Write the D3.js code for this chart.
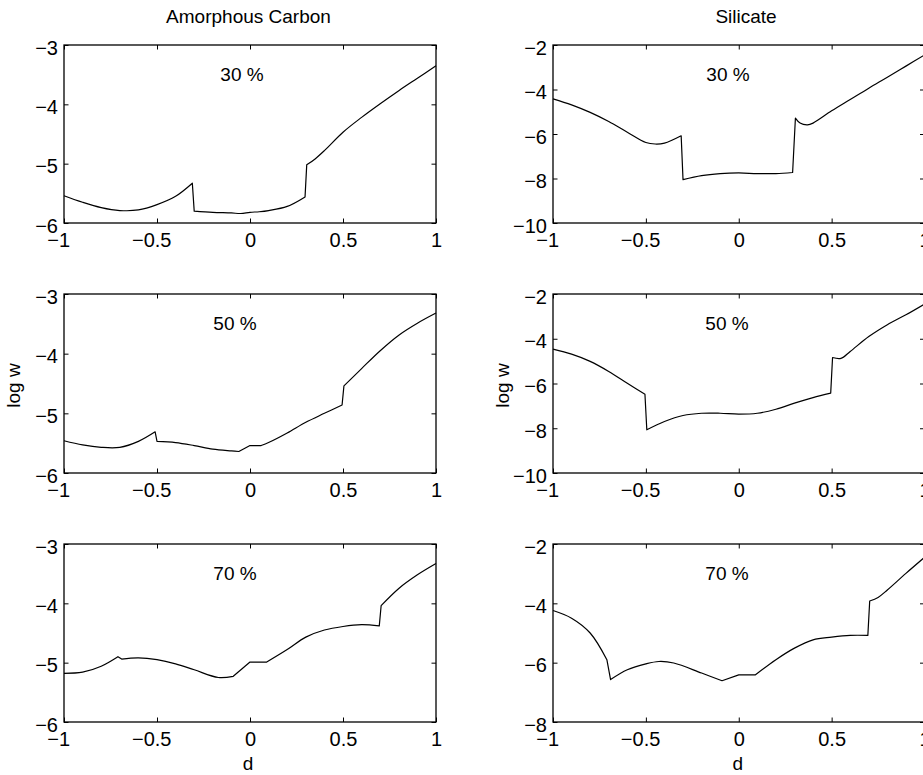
<!DOCTYPE html>
<html><head><meta charset="utf-8">
<script src="https://cdn.jsdelivr.net/npm/d3@7"></script>
<style>html,body{margin:0;padding:0;background:#fff;overflow:hidden}</style>
</head><body><svg id="c" width="923" height="775"></svg>
<script>
// ---------- data ----------
const dTicks = [-1, -0.5, 0, 0.5, 1];
const carbonTicks = [-6, -5, -4, -3];
const silicateTicks = [-10, -8, -6, -4, -2];
const silicateTicks70 = [-8, -6, -4, -2];
const columnTitles = ["Amorphous Carbon", "Silicate"];
const fractionLabels = ["30 %", "50 %", "70 %"];
const xLabel = "d";
const yLabel = "log w";

const carbon30D = [-1, -0.9, -0.8, -0.7, -0.6, -0.5, -0.4, -0.31, -0.30, -0.2, -0.1, -0.05, 0, 0.05, 0.1, 0.2, 0.296, 0.305, 0.35, 0.4, 0.5, 0.6, 0.7, 0.8, 0.9, 1];
const carbon30W = [-5.54, -5.65, -5.74, -5.79, -5.78, -5.69, -5.55, -5.33, -5.80, -5.82, -5.83, -5.84, -5.82, -5.81, -5.79, -5.72, -5.56, -5.02, -4.92, -4.78, -4.47, -4.22, -3.99, -3.77, -3.56, -3.35];
const carbon30Kinks = [-0.31, -0.30, 0.296, 0.305];

const carbon50D = [-1, -0.9, -0.8, -0.7, -0.6, -0.51, -0.50, -0.4, -0.3, -0.2, -0.1, -0.06, 0, 0.06, 0.1, 0.2, 0.3, 0.4, 0.495, 0.505, 0.6, 0.7, 0.8, 0.9, 1];
const carbon50W = [-5.46, -5.53, -5.57, -5.57, -5.47, -5.31, -5.47, -5.49, -5.54, -5.60, -5.63, -5.64, -5.54, -5.54, -5.49, -5.33, -5.15, -5.00, -4.86, -4.54, -4.25, -3.95, -3.69, -3.49, -3.32];
const carbon50Kinks = [-0.51, -0.50, -0.06, 0, 0.06, 0.495, 0.505];

const carbon70D = [-1, -0.9, -0.8, -0.71, -0.69, -0.6, -0.5, -0.4, -0.3, -0.17, -0.09, 0, 0.09, 0.2, 0.3, 0.4, 0.5, 0.6, 0.695, 0.705, 0.8, 0.9, 1];
const carbon70W = [-5.18, -5.16, -5.06, -4.90, -4.94, -4.92, -4.95, -5.02, -5.12, -5.25, -5.23, -4.99, -4.99, -4.78, -4.57, -4.45, -4.39, -4.36, -4.38, -4.04, -3.75, -3.52, -3.33];
const carbon70Kinks = [-0.71, -0.69, -0.09, 0, 0.09, 0.695, 0.705];

const silicate30D = [-1, -0.9, -0.8, -0.7, -0.6, -0.5, -0.45, -0.4, -0.31, -0.30, -0.2, -0.1, 0, 0.1, 0.2, 0.29, 0.305, 0.33, 0.37, 0.4, 0.5, 0.6, 0.7, 0.8, 0.9, 1];
const silicate30W = [-4.42, -4.69, -5.03, -5.44, -5.92, -6.38, -6.45, -6.41, -6.08, -8.05, -7.87, -7.78, -7.75, -7.78, -7.78, -7.73, -5.29, -5.51, -5.59, -5.51, -4.96, -4.45, -3.94, -3.45, -2.95, -2.45];
const silicate30Kinks = [-0.31, -0.30, 0.29, 0.305];

const silicate50D = [-1, -0.9, -0.8, -0.7, -0.6, -0.505, -0.495, -0.4, -0.3, -0.2, -0.1, 0, 0.1, 0.2, 0.3, 0.4, 0.495, 0.505, 0.55, 0.6, 0.7, 0.8, 0.9, 1];
const silicate50W = [-4.46, -4.69, -5.01, -5.46, -5.99, -6.48, -8.07, -7.70, -7.43, -7.33, -7.33, -7.37, -7.33, -7.15, -6.88, -6.63, -6.43, -4.84, -4.88, -4.57, -3.90, -3.37, -2.93, -2.45];
const silicate50Kinks = [-0.505, -0.495, 0.495, 0.505];

const silicate70D = [-1, -0.9, -0.8, -0.71, -0.69, -0.6, -0.5, -0.43, -0.35, -0.2, -0.09, 0, 0.09, 0.2, 0.3, 0.4, 0.5, 0.6, 0.695, 0.705, 0.75, 0.8, 0.9, 1];
const silicate70W = [-4.24, -4.50, -5.00, -5.90, -6.57, -6.24, -6.04, -5.96, -6.01, -6.35, -6.61, -6.41, -6.41, -5.90, -5.51, -5.23, -5.14, -5.08, -5.08, -3.92, -3.80, -3.55, -2.99, -2.45];
const silicate70Kinks = [-0.71, -0.69, -0.09, 0, 0.09, 0.695, 0.705];

// ---------- layout ----------
const FONT = "'Liberation Sans', Arial, Helvetica, sans-serif";
const colX = [[64, 436], [553, 924.5]];
const rowY = [[45, 223], [294, 473], [544, 722]];
const TICK = 4.5;

const panels = [
  {col: 0, row: 0, d: carbon30D, w: carbon30W, k: carbon30Kinks, domain: [-6, -3], ticks: carbonTicks, labelCx: 242},
  {col: 0, row: 1, d: carbon50D, w: carbon50W, k: carbon50Kinks, domain: [-6, -3], ticks: carbonTicks, labelCx: 235},
  {col: 0, row: 2, d: carbon70D, w: carbon70W, k: carbon70Kinks, domain: [-6, -3], ticks: carbonTicks, labelCx: 235},
  {col: 1, row: 0, d: silicate30D, w: silicate30W, k: silicate30Kinks, domain: [-10, -2], ticks: silicateTicks, labelCx: 728},
  {col: 1, row: 1, d: silicate50D, w: silicate50W, k: silicate50Kinks, domain: [-10, -2], ticks: silicateTicks, labelCx: 727},
  {col: 1, row: 2, d: silicate70D, w: silicate70W, k: silicate70Kinks, domain: [-8, -2], ticks: silicateTicks70, labelCx: 727}
];

const svg = d3.select("#c");
const fmt = v => (v < 0 ? "\u2212" : "") + String(Math.abs(v));

function styleAxis(g) {
  g.attr("font-family", FONT).attr("font-size", 20);
  g.select(".domain").remove();
  g.selectAll(".tick line").attr("stroke", "#000").attr("stroke-width", 1);
  g.selectAll(".tick text").attr("fill", "#000");
}

// split a series into runs at kink points (kink point shared by adjacent runs)
function runs(pts, kinks) {
  const out = [];
  let cur = [];
  pts.forEach(pt => {
    cur.push(pt);
    if (kinks.includes(pt[0]) && cur.length > 1) {
      out.push(cur);
      cur = [pt];
    }
  });
  if (cur.length > 1) out.push(cur);
  return out;
}

panels.forEach(p => {
  const [x0, x1] = colX[p.col];
  const [y0, y1] = rowY[p.row];
  const x = d3.scaleLinear().domain([-1, 1]).range([x0, x1]);
  const y = d3.scaleLinear().domain(p.domain).range([y1, y0]);
  const g = svg.append("g");

  g.append("g").attr("transform", `translate(0,${y1})`)
    .call(d3.axisBottom(x).tickValues(dTicks).tickSizeInner(-TICK).tickSizeOuter(0).tickPadding(9.5).tickFormat(fmt))
    .call(styleAxis)
    .call(a => a.selectAll(".tick text").filter(v => v < 0).attr("dx", "-0.29em"));
  g.append("g").attr("transform", `translate(0,${y0})`)
    .call(d3.axisTop(x).tickValues(dTicks).tickSizeInner(-TICK).tickSizeOuter(0).tickFormat(""))
    .call(styleAxis);
  g.append("g").attr("transform", `translate(${x0},0)`)
    .call(d3.axisLeft(y).tickValues(p.ticks).tickSizeInner(-TICK).tickSizeOuter(0).tickPadding(6).tickFormat(fmt))
    .call(styleAxis)
    .call(a => a.selectAll(".tick text").attr("dy", "0.46em"));
  g.append("g").attr("transform", `translate(${x1},0)`)
    .call(d3.axisRight(y).tickValues(p.ticks).tickSizeInner(-TICK).tickSizeOuter(0).tickFormat(""))
    .call(styleAxis);

  g.append("rect").attr("x", x0).attr("y", y0).attr("width", x1 - x0).attr("height", y1 - y0)
    .attr("fill", "none").attr("stroke", "#000").attr("stroke-width", 1.3);

  const pts = p.d.map((d, i) => [d, p.w[i]]);
  const line = d3.line().x(v => x(v[0])).y(v => y(v[1])).curve(d3.curveCatmullRom.alpha(0.5));
  const pathD = runs(pts, p.k).map((r, i) => {
    const s = line(r);
    return i === 0 ? s : s.replace(/^M/, "L");
  }).join("");
  g.append("path").attr("d", pathD)
    .attr("fill", "none").attr("stroke", "#000").attr("stroke-width", 1.2).attr("stroke-linejoin", "round");

  g.append("text").attr("x", p.labelCx).attr("y", y0 + 35.5)
    .attr("text-anchor", "middle").attr("font-family", FONT).attr("font-size", 19)
    .text(fractionLabels[p.row]);

  if (p.row === 2) {
    g.append("text").attr("x", (x0 + x1) / 2 - (p.col === 0 ? 2 : 1)).attr("y", 770)
      .attr("text-anchor", "middle").attr("font-family", FONT).attr("font-size", 19).text(xLabel);
  }
  if (p.row === 1) {
    const cx = x0 - 44.5, cy = (y0 + y1) / 2 + 2;
    g.append("text").attr("transform", `translate(${cx},${cy}) rotate(-90)`)
      .attr("text-anchor", "middle").attr("font-family", FONT).attr("font-size", 19).text(yLabel);
  }
});

svg.append("text").attr("x", 248.5).attr("y", 23).attr("text-anchor", "middle")
  .attr("font-family", FONT).attr("font-size", 19).text(columnTitles[0]);
svg.append("text").attr("x", 746).attr("y", 23).attr("text-anchor", "middle")
  .attr("font-family", FONT).attr("font-size", 19).text(columnTitles[1]);
</script>
</body></html>
